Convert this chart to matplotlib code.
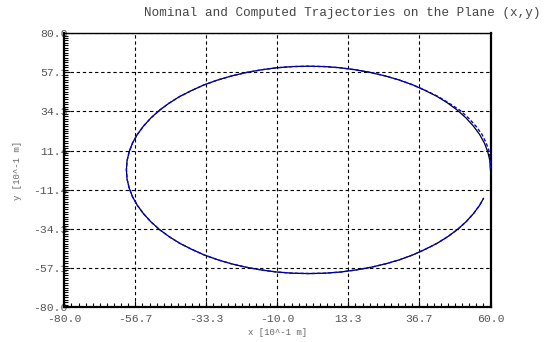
import numpy as np
import matplotlib
matplotlib.use("Agg")
import matplotlib.pyplot as plt
from matplotlib.ticker import FixedLocator, AutoMinorLocator, FormatStrFormatter

plt.rcParams['font.family'] = ['Liberation Mono', 'DejaVu Sans Mono']
plt.rcParams['axes.unicode_minus'] = False

# computed trajectory on the (x, y) plane, units of 10^-1 m
x_comp = [60.0, 59.8, 59.1, 58.0, 56.4, 54.4, 52.0, 49.2, 46.0, 42.5,
          38.6, 34.5, 30.1, 25.5, 20.7, 15.7, 10.6, 5.4, 0.2, -5.0,
          -10.2, -15.3, -20.3, -25.1, -29.7, -34.1, -38.2, -42.1, -45.6, -48.8,
          -51.6, -54.0, -56.0, -57.6, -58.7, -59.4, -59.6, -59.4, -58.7, -57.6,
          -56.0, -54.0, -51.6, -48.8, -45.6, -42.1, -38.2, -34.1, -29.7, -25.1,
          -20.3, -15.3, -10.2, -5.0, 0.4, 5.6, 10.8, 15.8, 20.8, 25.6,
          30.2, 34.5, 38.6, 42.5, 46.0, 49.2, 52.0, 54.4, 56.4, 57.7]
y_comp = [0.2, 5.4, 10.7, 15.8, 20.9, 25.7, 30.4, 34.9, 39.1, 43.0,
          46.5, 49.8, 52.6, 55.0, 57.0, 58.6, 59.8, 60.5, 60.7, 60.5,
          59.8, 58.6, 57.0, 55.0, 52.6, 49.8, 46.5, 43.0, 39.1, 34.9,
          30.4, 25.7, 20.9, 15.8, 10.7, 5.4, 0.2, -5.1, -10.4, -15.5,
          -20.6, -25.4, -30.1, -34.6, -38.8, -42.7, -46.2, -49.5, -52.3, -54.7,
          -56.7, -58.3, -59.5, -60.2, -60.4, -60.2, -59.5, -58.3, -56.7, -54.7,
          -52.3, -49.5, -46.2, -42.7, -38.8, -34.6, -30.1, -25.4, -20.6, -16.5]

# nominal trajectory (bulges slightly outward in the upper right)
x_nom = [60.0, 59.9, 59.6, 58.6, 57.2, 55.2, 52.8, 50.0, 46.4, 42.8,
         38.7, 34.5, 30.1, 25.5, 20.7, 15.7, 10.6, 5.4, 0.2, -5.0,
         -10.2, -15.3, -20.3, -25.1, -29.7, -34.1, -38.2, -42.1, -45.6, -48.8,
         -51.6, -54.0, -56.0, -57.6, -58.7, -59.4, -59.6, -59.4, -58.7, -57.6,
         -56.0, -54.0, -51.6, -48.8, -45.6, -42.1, -38.2, -34.1, -29.7, -25.1,
         -20.3, -15.3, -10.2, -5.0, 0.4, 5.6, 10.8, 15.8, 20.8, 25.6,
         30.2, 34.5, 38.6, 42.5, 46.0, 49.2, 52.0, 54.4, 56.4, 57.7]
y_nom = [1.0, 5.6, 10.7, 15.8, 20.9, 25.7, 30.4, 34.9, 39.1, 43.0,
         46.5, 49.8, 52.6, 55.0, 57.0, 58.6, 59.8, 60.5, 60.7, 60.5,
         59.8, 58.6, 57.0, 55.0, 52.6, 49.8, 46.5, 43.0, 39.1, 34.9,
         30.4, 25.7, 20.9, 15.8, 10.7, 5.4, 0.2, -5.1, -10.4, -15.5,
         -20.6, -25.4, -30.1, -34.6, -38.8, -42.7, -46.2, -49.5, -52.3, -54.7,
         -56.7, -58.3, -59.5, -60.2, -60.4, -60.2, -59.5, -58.3, -56.7, -54.7,
         -52.3, -49.5, -46.2, -42.7, -38.8, -34.6, -30.1, -25.4, -20.6, -16.5]

x_ticks = [-80.0, -56.67, -33.33, -10.0, 13.33, 36.67, 60.0]
y_ticks = [-80.0, -57.14, -34.29, -11.43, 11.43, 34.29, 57.14, 80.0]

fig = plt.figure(figsize=(5.45, 3.42), dpi=100)
ax = fig.add_axes([0.118, 0.102, 0.782, 0.801])

ax.plot(x_comp, y_comp, color='black', lw=0.9, zorder=3)
ax.plot(x_nom, y_nom, color='blue', lw=1.0, dashes=(2.5, 1.5), zorder=4)

ax.set_xlim(-80, 60)
ax.set_ylim(-80, 80)
ax.xaxis.set_major_locator(FixedLocator(x_ticks))
ax.yaxis.set_major_locator(FixedLocator(y_ticks))
ax.xaxis.set_major_formatter(FormatStrFormatter('%.1f'))
ax.yaxis.set_major_formatter(FormatStrFormatter('%.1f'))
ax.xaxis.set_minor_locator(AutoMinorLocator(10))
ax.yaxis.set_minor_locator(AutoMinorLocator(16))

ax.grid(True, which='major', color='black', lw=0.8, linestyle=(0, (3, 2.5)))
ax.tick_params(which='both', direction='in', top=False, right=False,
               color='black', width=0.8)
ax.tick_params(which='major', length=4)
ax.tick_params(which='minor', length=3)
ax.tick_params(axis='x', which='major', labelsize=8.2, labelcolor='#555555', pad=5)
ax.tick_params(axis='y', which='major', labelsize=8.2, labelcolor='#555555', pad=-2.5)

for side in ['left', 'right', 'bottom']:
    ax.spines[side].set_linewidth(1.6)
ax.spines['top'].set_linewidth(1.0)

ax.set_xlabel('x [10^-1 m]', fontsize=6.5, color='#666666', labelpad=3)
ax.set_ylabel('y [10^-1 m]', fontsize=6.5, color='#666666', labelpad=8)

fig.text(0.992, 0.962, 'Nominal and Computed Trajectories on the Plane (x,y)',
         ha='right', va='center', fontsize=9.1, color='#444444')

fig.savefig('out.png', dpi=100)
